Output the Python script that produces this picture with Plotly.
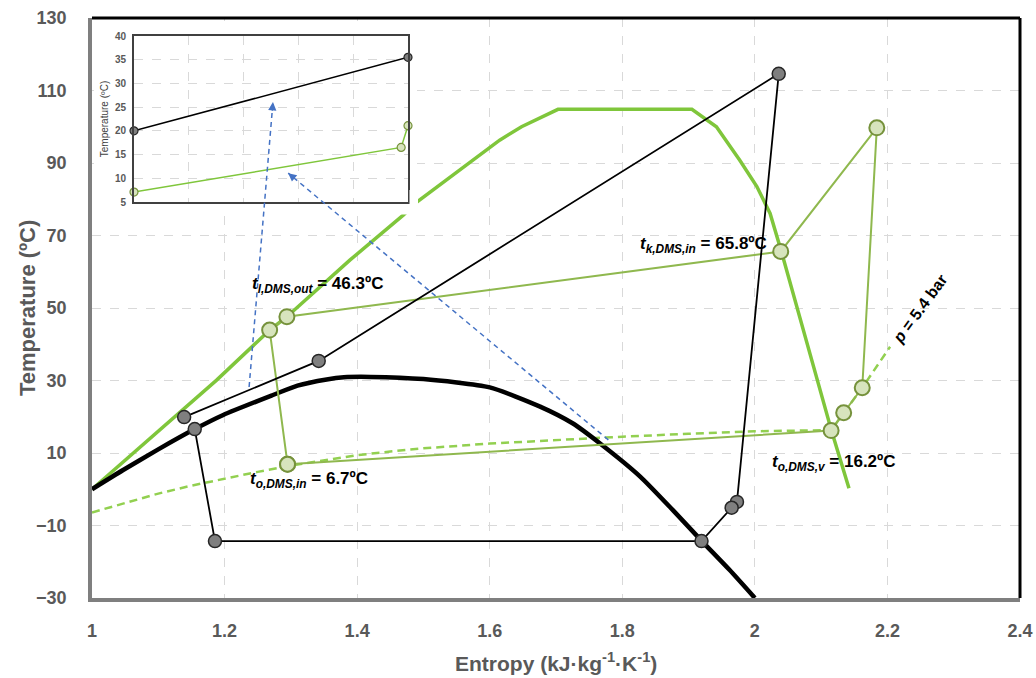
import plotly.graph_objects as go

# ---------------- data ----------------
# refrigerant saturation dome (thick black)
dome_s = [1.0, 1.047, 1.098, 1.155, 1.198, 1.273, 1.31, 1.354, 1.38, 1.42, 1.50, 1.60, 1.676, 1.725, 1.766, 1.827, 1.876, 1.92, 1.962, 2.0]
dome_T = [0, 5.3, 10.8, 16.6, 20.5, 26.0, 28.6, 30.3, 30.9, 31.0, 30.4, 28.1, 22.8, 18.2, 12.7, 3.5, -5.7, -14.3, -22.3, -30]

# secondary (DMS) curve (bright green)
sec_s = [1.0, 1.188, 1.268, 1.294, 1.389, 1.47, 1.49, 1.615, 1.648, 1.703, 1.905, 1.942, 1.977, 2.003, 2.023, 2.040, 2.116, 2.142]
sec_T = [0, 30.1, 43.9, 47.6, 63.2, 75.7, 79.2, 96.3, 100.0, 104.8, 104.8, 100.0, 90.8, 83.5, 76.1, 65.6, 15.9, 0.3]

# isobar p = 5.4 bar (dashed green)
iso_s = [1.0, 1.05, 1.1, 1.15, 1.2, 1.25, 1.3, 1.35, 1.4, 1.45, 1.5, 1.6, 1.7, 1.8, 1.9, 2.0, 2.115, 2.134, 2.162, 2.204]
iso_T = [-6.4, -3.7, -1.2, 1.0, 3.0, 4.8, 6.5, 8.0, 9.4, 10.4, 11.3, 12.6, 13.6, 14.5, 15.3, 16.0, 16.3, 21.1, 28.0, 39.3]

# refrigerant cycle (thin black)
black_s = [1.139, 1.342, 2.036, 1.973, 1.965, 1.9195, 1.1855, 1.155]
black_T = [19.9, 35.4, 114.6, -3.5, -5.1, -14.3, -14.3, 16.6]

# DMS cycle (olive green)
green_s = [1.295, 2.115, 2.134, 2.162, 2.184, 2.039, 1.294, 1.268, 1.295]
green_T = [6.9, 16.2, 21.1, 28.0, 99.7, 65.6, 47.6, 43.9, 6.9]

# inset (heat exchanger zoom)
inset_black_x = [0, 1]
inset_black_T = [20.0, 35.5]
inset_green_x = [0, 0.975, 1]
inset_green_T = [7.1, 16.5, 21.1]

# blue dashed arrows (tail -> head)
arrow_tail_s = [1.237, 1.779]
arrow_tail_T = [28.2, 13.6]
arrow_head_s = [1.273, 1.296]
arrow_head_T = [106.8, 87.2]

# labels
label_texts = [
    "<b><i>t</i><sub><i>l,DMS,out</i></sub> = 46.3ºC</b>",
    "<b><i>t</i><sub><i>k,DMS,in</i></sub> = 65.8ºC</b>",
    "<b><i>t</i><sub><i>o,DMS,in</i></sub> = 6.7ºC</b>",
    "<b><i>t</i><sub><i>o,DMS,v</i></sub> = 16.2ºC</b>",
]
label_s = [1.238, 1.8235, 1.235, 2.0226]
label_T = [56.3, 67.4, 2.6, 7.3]

x_ticks = [1, 1.2, 1.4, 1.6, 1.8, 2, 2.2, 2.4]
y_ticks = [-30, -10, 10, 30, 50, 70, 90, 110, 130]
inset_y_ticks = [5, 10, 15, 20, 25, 30, 35, 40]

# ---------------- styling ----------------
FONT = "Liberation Sans Narrow, Arial Narrow, Liberation Sans, Arial, sans-serif"
GRAY_TXT = "#595959"
GRID = "#d9d9d9"
BRIGHT_GREEN = "#7fc63b"
DASH_GREEN = "#92d050"
CYCLE_GREEN = "#8fb84e"
MK_GREEN_FILL = "#d7e4bd"
MK_GREEN_LINE = "#76923c"
MK_GRAY_FILL = "#7f7f7f"
MK_GRAY_LINE = "#262626"
BLUE = "#4472c4"

fig = go.Figure()

fig.add_trace(go.Scatter(x=iso_s, y=iso_T, mode="lines", line=dict(color=DASH_GREEN, width=2.5, dash="8px,5px"), hoverinfo="skip"))
fig.add_trace(go.Scatter(x=sec_s, y=sec_T, mode="lines", line=dict(color=BRIGHT_GREEN, width=3.5), hoverinfo="skip"))
fig.add_trace(go.Scatter(x=dome_s, y=dome_T, mode="lines", line=dict(color="black", width=4.5, shape="spline", smoothing=0.6), hoverinfo="skip"))
fig.add_trace(go.Scatter(x=green_s, y=green_T, mode="lines+markers",
                         line=dict(color=CYCLE_GREEN, width=2),
                         marker=dict(size=15, color=MK_GREEN_FILL, line=dict(color=MK_GREEN_LINE, width=2)),
                         cliponaxis=False, hoverinfo="skip"))
fig.add_trace(go.Scatter(x=black_s, y=black_T, mode="lines+markers",
                         line=dict(color="black", width=1.8),
                         marker=dict(size=13, color=MK_GRAY_FILL, line=dict(color=MK_GRAY_LINE, width=1.5)),
                         cliponaxis=False, hoverinfo="skip"))

# inset traces
fig.add_trace(go.Scatter(x=inset_black_x, y=inset_black_T, xaxis="x2", yaxis="y2", mode="lines+markers",
                         line=dict(color="black", width=1.5),
                         marker=dict(size=8, color=MK_GRAY_FILL, line=dict(color=MK_GRAY_LINE, width=1.2)),
                         cliponaxis=False, hoverinfo="skip"))
fig.add_trace(go.Scatter(x=inset_green_x, y=inset_green_T, xaxis="x2", yaxis="y2", mode="lines+markers",
                         line=dict(color=BRIGHT_GREEN, width=1.5),
                         marker=dict(size=8, color=MK_GREEN_FILL, line=dict(color=MK_GREEN_LINE, width=1.2)),
                         cliponaxis=False, hoverinfo="skip"))

# plot area geometry (pixels)
L, R, T, B = 92, 16, 18, 80
W, H = 1036, 678
pw, ph = W - L - R, H - T - B
px_per_s = pw / (x_ticks[-1] - x_ticks[0])
px_per_T = ph / (y_ticks[-1] - y_ticks[0])


def px_to_s(px):
    return x_ticks[0] + (px - L) / px_per_s


def py_to_T(py):
    return y_ticks[-1] - (py - T) / px_per_T


shapes = []
# gap of the green line at the inset corner
shapes.append(dict(type="rect", xref="paper", yref="paper", x0=(409.5 - L) / pw, x1=(418 - L) / pw, y0=(H - B - 214.5) / ph, y1=(H - B - 190) / ph,
                   fillcolor="white", line=dict(width=0), layer="above"))
shapes.append(dict(type="rect", xref="paper", yref="paper", x0=(398 - L) / pw, x1=(418 - L) / pw, y0=(H - B - 214.5) / ph, y1=(H - B - 204.5) / ph,
                   fillcolor="white", line=dict(width=0), layer="above"))
# top and right frame in black
shapes.append(dict(type="line", xref="paper", yref="paper", x0=0, x1=1, y0=1, y1=1, line=dict(color="black", width=3), layer="above"))
shapes.append(dict(type="line", xref="paper", yref="paper", x0=1, x1=1, y0=0, y1=1, line=dict(color="black", width=3), layer="above"))

annotations = []
for ts, tT, hs, hT in zip(arrow_tail_s, arrow_tail_T, arrow_head_s, arrow_head_T):
    shapes.append(dict(type="line", xref="x", yref="y", x0=ts, y0=tT, x1=hs, y1=hT,
                       line=dict(color=BLUE, width=1.5, dash="5px,4px"), layer="above"))
    dxp = (hs - ts) * px_per_s
    dyp = (hT - tT) * px_per_T
    ln = (dxp ** 2 + dyp ** 2) ** 0.5
    back = 10.0 / ln
    annotations.append(dict(x=hs, y=hT, xref="x", yref="y", ax=hs - (hs - ts) * back, ay=hT - (hT - tT) * back,
                            axref="x", ayref="y", showarrow=True, arrowhead=2, arrowsize=1.1, arrowwidth=1.5,
                            arrowcolor=BLUE, text="", standoff=0))

# white backdrop of the inset (hides main gridlines)
shapes.append(dict(type="rect", xref="x", yref="y", x0=px_to_s(94), x1=px_to_s(417), y0=py_to_T(213), y1=py_to_T(21),
                   fillcolor="white", line=dict(width=0), layer="between"))

for txt, s, t in zip(label_texts, label_s, label_T):
    annotations.append(dict(x=s, y=t, xref="x", yref="y", text=txt, showarrow=False, xanchor="left", yanchor="middle",
                            font=dict(family=FONT, size=17, color="black")))

annotations.append(dict(x=2.249, y=50, xref="x", yref="y", text="<b><i>p</i> = 5.4 bar</b>", showarrow=False,
                        textangle=-54, font=dict(family=FONT, size=16, color="black")))

# axis titles
annotations.append(dict(x=(27 - L) / pw, y=0.5, xref="paper", yref="paper", text="<b>Temperature (ºC)</b>",
                        showarrow=False, textangle=-90, xanchor="center", yanchor="middle",
                        font=dict(family=FONT, size=22, color=GRAY_TXT)))
annotations.append(dict(x=0.5, y=(H - B - 662) / ph, xref="paper", yref="paper",
                        text="<b>Entropy (kJ·kg<sup>-1</sup>·K<sup>-1</sup>)</b>",
                        showarrow=False, xanchor="center", yanchor="middle",
                        font=dict(family=FONT, size=21, color=GRAY_TXT)))

fig.update_layout(
    width=W, height=H,
    margin=dict(l=L, r=R, t=T, b=B),
    paper_bgcolor="white", plot_bgcolor="white",
    showlegend=False,
    font=dict(family=FONT, color=GRAY_TXT),
    xaxis=dict(range=[x_ticks[0], x_ticks[-1]], tickvals=x_ticks, ticktext=[f"{v:g}" for v in x_ticks],
               showgrid=True, gridcolor=GRID, gridwidth=1, griddash="dash", zeroline=False, automargin=False,
               showline=True, linecolor="#7f7f7f", linewidth=3.5, ticks="", ticklabelstandoff=14,
               tickfont=dict(family=FONT, size=18, color=GRAY_TXT, weight="bold")),
    yaxis=dict(range=[y_ticks[0], y_ticks[-1]], tickvals=y_ticks, automargin=False,
               showgrid=True, gridcolor=GRID, gridwidth=1, griddash="dash", zeroline=False,
               showline=True, linecolor="#7f7f7f", linewidth=3.5, ticks="", ticklabelstandoff=18,
               tickfont=dict(family=FONT, size=18, color=GRAY_TXT, weight="bold")),
    xaxis2=dict(domain=[(134 - L) / pw, (408 - L) / pw], anchor="y2", range=[0, 1], dtick=0.2, showticklabels=False,
                showgrid=True, gridcolor=GRID, griddash="dash", zeroline=False, automargin=False,
                showline=True, mirror=True, linecolor="#404040", linewidth=2, ticks=""),
    yaxis2=dict(domain=[(H - B - 202) / ph, (H - B - 36) / ph], anchor="x2", range=[5, 40], tickvals=inset_y_ticks,
                showgrid=True, gridcolor=GRID, griddash="dash", zeroline=False, automargin=False,
                showline=True, mirror=True, linecolor="#404040", linewidth=2, ticks="", ticklabelstandoff=4,
                tickfont=dict(family=FONT, size=10, color=GRAY_TXT, weight="bold"),
                title=dict(text="Temperature (ºC)", standoff=4, font=dict(family=FONT, size=10, color="#404040"))),
    shapes=shapes,
    annotations=annotations,
)

# the page's default 8px body margin would shift the figure; remove it
fig.write_html("out.html", config={"displayModeBar": False},
               post_script="document.body.style.margin='0';document.body.style.overflow='hidden';")
